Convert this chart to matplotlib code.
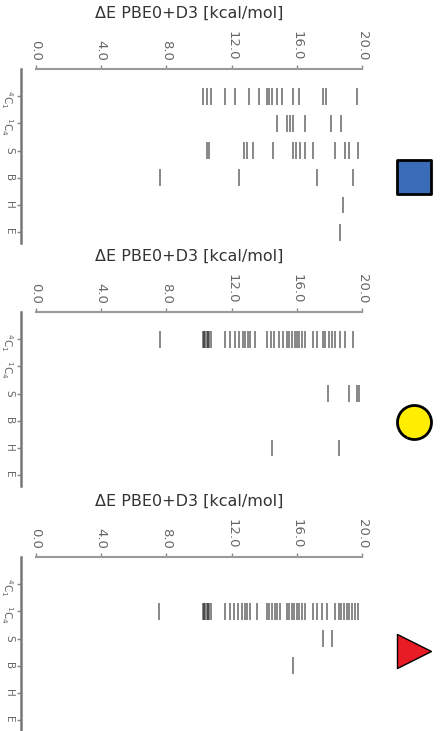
import matplotlib
matplotlib.use("Agg")
from matplotlib import pyplot as plt

categories = ["$^{4}$C$_{1}$", "$^{1}$C$_{4}$", "S", "B", "H", "E"]
tick_values = [0.0, 4.0, 8.0, 12.0, 16.0, 20.0]
axis_label = "ΔE PBE0+D3 [kcal/mol]"

# energies per conformer family, one dict per panel
square_data = {
    0: [10.27, 10.51, 10.72, 11.62, 12.19, 13.05, 13.70, 14.15, 14.27, 14.48,
        14.81, 15.09, 15.79, 16.16, 17.63, 17.79, 19.71],
    1: [14.76, 15.42, 15.58, 15.75, 16.52, 18.12, 18.73],
    2: [10.47, 10.63, 12.76, 12.97, 13.33, 14.56, 15.79, 15.95, 16.20, 16.48,
        17.01, 18.36, 18.94, 19.18, 19.75],
    3: [7.61, 12.47, 17.26, 19.47],
    4: [18.85],
    5: [18.65],
}
circle_data = {
    0: [7.61, 10.22, 10.30, 10.39, 10.47, 10.55, 10.64, 10.72, 11.62, 11.90,
        12.19, 12.43, 12.68, 12.84, 13.01, 13.13, 13.46, 14.15, 14.40, 14.60,
        14.89, 15.17, 15.42, 15.54, 15.71, 15.87, 15.99, 16.16, 16.32, 16.52,
        17.01, 17.26, 17.59, 17.75, 17.96, 18.16, 18.36, 18.65, 18.98, 19.47],
    1: [],
    2: [17.91, 19.22, 19.71, 19.80],
    3: [],
    4: [14.46, 18.61],
    5: [],
}
triangle_data = {
    0: [],
    1: [7.57, 10.22, 10.30, 10.39, 10.47, 10.55, 10.64, 10.72, 11.62, 11.90,
        12.15, 12.39, 12.64, 12.84, 12.97, 13.13, 13.54, 14.15, 14.31, 14.48,
        14.64, 14.81, 14.97, 15.42, 15.54, 15.71, 15.83, 15.99, 16.16, 16.32,
        16.52, 17.01, 17.26, 17.55, 17.83, 18.36, 18.57, 18.73, 18.90, 19.06,
        19.22, 19.39, 19.55, 19.75],
    2: [17.63, 18.16],
    3: [15.79],
    4: [],
    5: [],
}

# data, axes top (px), marker, colour, marker height from top (axes fraction)
panels = [
    (square_data, 69, "s", "#3b6cb7", 0.62),
    (circle_data, 312, "o", "#ffee00", 0.63),
    (triangle_data, 557, ">", "#e81c24", 0.54),
]

W, H = 441, 731
fig = plt.figure(figsize=(W / 100, H / 100), dpi=100)

for data, top_px, marker, color, marker_y in panels:
    ax = fig.add_axes([36 / W, 1 - (top_px + 174) / H, 326 / W, 174 / H])
    # set spine position first, it resets the ticks
    ax.spines["left"].set_position(("outward", 11))
    ax.spines["right"].set_visible(False)
    ax.spines["bottom"].set_visible(False)
    ax.spines["top"].set_color("#999999")
    ax.spines["top"].set_linewidth(1.5)
    ax.spines["left"].set_color("#777777")
    ax.spines["left"].set_linewidth(1.8)

    for i in range(len(categories)):
        vals = data[i]
        if vals:
            ax.vlines(vals, i - 0.31, i + 0.31, colors="black", alpha=0.55, linewidth=1.2)
    ax.set_xlim(0, 20)
    ax.set_ylim(5.4, -1.0)
    ax.xaxis.tick_top()
    ax.xaxis.set_label_position("top")
    ax.set_xticks(tick_values)
    ax.set_xticklabels(["%.1f" % v for v in tick_values], rotation=270, color="#666666", fontsize=9.5)
    ax.set_yticks(range(len(categories)))
    ax.set_yticklabels(categories, rotation=270, color="#666666", fontsize=7.5)
    ax.tick_params(axis="x", length=3, width=1, color="#888888", pad=3)
    ax.tick_params(axis="y", length=3, width=1, color="#888888", pad=1.5)
    ax.set_xlabel(axis_label, fontsize=11.5, color="#333333")
    ax.xaxis.set_label_coords(0.47, 1.0 + 51 / 174)
    ax.scatter([1.16], [1 - marker_y], marker=marker, s=600, c=color, edgecolors="black",
               linewidths=2 if marker != ">" else 1, transform=ax.transAxes, clip_on=False, zorder=5)

fig.savefig("out.png", dpi=100)
